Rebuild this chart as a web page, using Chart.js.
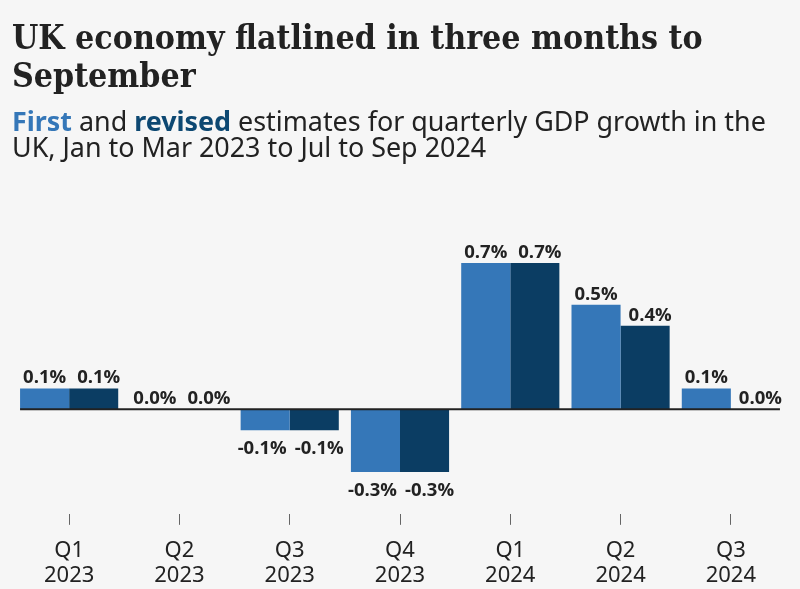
<!DOCTYPE html>
<html>
<head>
<meta charset="utf-8">
<script src="https://cdn.jsdelivr.net/npm/chart.js@4.4.1/dist/chart.umd.min.js"></script>
<style>
  html, body { margin: 0; padding: 0; background: #f6f6f6; }
  body { width: 800px; height: 589px; position: relative; overflow: hidden; }
  #title { position: absolute; left: 12px; top: 18px; font-family: 'DejaVu Serif Condensed', 'DejaVu Serif', serif; font-weight: bold; color: #222; font-size: 30px; line-height: 38px; white-space: nowrap; }
  #subtitle { position: absolute; left: 12px; top: 108px; font-family: 'Noto Sans', sans-serif; color: #222; font-size: 24px; line-height: 26px; white-space: nowrap; }
  #subtitle .first { color: #3577b8; font-weight: bold; }
  #subtitle .rev { color: #0d4872; font-weight: bold; }
  #wrap { position: absolute; left: 0; top: 0; width: 800px; height: 601px; }
</style>
</head>
<body>
<div id="wrap"><canvas id="c" width="800" height="601"></canvas></div>
<div id="title"><span id="t1">UK economy flatlined in three months to</span><br>September</div>
<div id="subtitle"><span id="s1"><span class="first">First</span> and <span class="rev">revised</span> estimates for quarterly GDP growth in the</span><br>UK, Jan to Mar 2023 to Jul to Sep 2024</div>
<script>
const categories = [["Q1","2023"],["Q2","2023"],["Q3","2023"],["Q4","2023"],["Q1","2024"],["Q2","2024"],["Q3","2024"]];
const firstEstimate = [0.1, 0.0, -0.1, -0.3, 0.7, 0.5, 0.1];
const revisedEstimate = [0.1, 0.0, -0.1, -0.3, 0.7, 0.4, 0.0];
const seriesNames = ["First", "Revised"];

function fit(elId, spanId, target) {
  const el = document.getElementById(elId), sp = document.getElementById(spanId);
  const fs = parseFloat(getComputedStyle(el).fontSize);
  const w = sp.getBoundingClientRect().width;
  el.style.fontSize = (fs * target / w) + 'px';
}
fit('title', 't1', 691);
fit('subtitle', 's1', 754);

const labelPlugin = {
  id: 'barLabels',
  afterDatasetsDraw(chart) {
    const ctx = chart.ctx;
    ctx.save();
    ctx.font = "bold 18.5px 'Open Sans', sans-serif";
    ctx.fillStyle = '#222';
    ctx.textAlign = 'center';
    chart.data.datasets.forEach((ds, di) => {
      const meta = chart.getDatasetMeta(di);
      meta.data.forEach((el, i) => {
        const v = ds.data[i];
        const txt = v.toFixed(1) + '%';
        ctx.textBaseline = 'alphabetic';
        let dx = di === 1 ? 5 : (v < 0 ? -3 : 0);
        if (v >= 0) {
          ctx.fillText(txt, el.x + dx, el.y - 5);
        } else {
          ctx.fillText(txt, el.x + dx, el.y + 24);
        }
      });
    });
    ctx.restore();
  }
};

const zeroLinePlugin = {
  id: 'zeroLine',
  afterDatasetsDraw(chart) {
    const y = chart.scales.y.getPixelForValue(0);
    const m0 = chart.getDatasetMeta(0).data[0];
    const mLast = chart.getDatasetMeta(1).data[categories.length - 1];
    const x0 = m0.x - m0.width / 2;
    const x1 = mLast.x + mLast.width / 2;
    const ctx = chart.ctx;
    ctx.save();
    ctx.strokeStyle = '#222';
    ctx.lineWidth = 2;
    ctx.beginPath();
    ctx.moveTo(x0, y);
    ctx.lineTo(x1, y);
    ctx.stroke();
    ctx.restore();
  }
};

new Chart(document.getElementById('c'), {
  type: 'bar',
  data: {
    labels: categories,
    datasets: [
      { label: seriesNames[0], data: firstEstimate, backgroundColor: '#3577b8', categoryPercentage: 0.89, barPercentage: 1.0 },
      { label: seriesNames[1], data: revisedEstimate, backgroundColor: '#0b3d63', categoryPercentage: 0.89, barPercentage: 1.0 }
    ]
  },
  options: {
    responsive: false,
    animation: false,
    devicePixelRatio: 1,
    layout: { padding: { left: 14, right: 14, top: 242, bottom: 0 } },
    plugins: { legend: { display: false }, tooltip: { enabled: false }, title: { display: false } },
    scales: {
      x: {
        offset: true,
        grid: { display: true, offset: false, drawOnChartArea: false, drawTicks: true, tickLength: 11, color: '#666', lineWidth: 1 },
        border: { display: false },
        ticks: { color: '#222', font: { family: "'Noto Sans', sans-serif", size: 22, lineHeight: 1.14 }, padding: 13, maxRotation: 0, autoSkip: false }
      },
      y: {
        display: false,
        min: -0.5,
        max: 0.8
      }
    }
  },
  plugins: [labelPlugin, zeroLinePlugin]
});
</script>
</body>
</html>
